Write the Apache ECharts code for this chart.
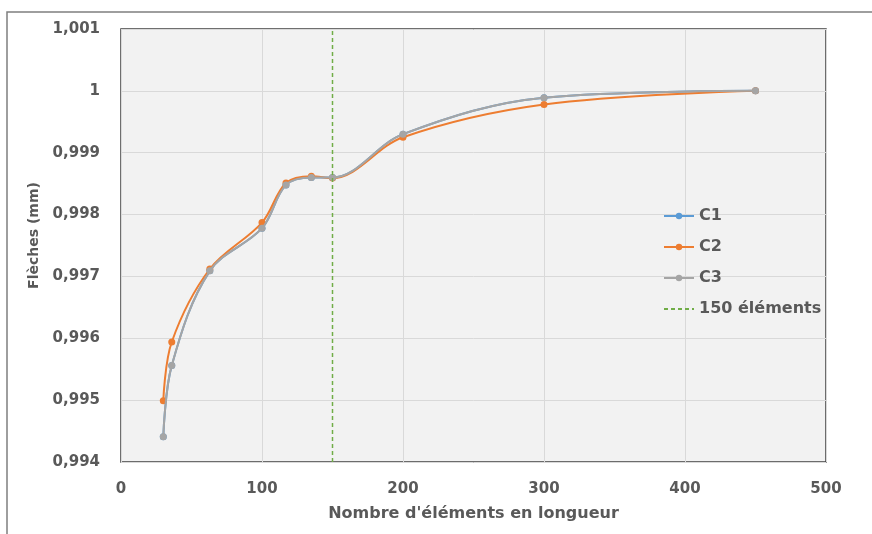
<!DOCTYPE html>
<html><head><meta charset="utf-8">
<script src="https://cdn.jsdelivr.net/npm/echarts@6/dist/echarts.min.js"></script>
<style>html,body{margin:0;padding:0;background:#fff}#c{width:872px;height:534px}</style>
</head><body><div id="c"></div>
<script>
const xVals = [30, 36, 63, 100, 117, 135, 150, 200, 300, 450];
const c1 = [0.99441, 0.99556, 0.99709, 0.99778, 0.99848, 0.99860, 0.99860, 0.99930, 0.99989, 1.00000];
const c2 = [0.99499, 0.99594, 0.99712, 0.99787, 0.99851, 0.99862, 0.99859, 0.99925, 0.99978, 1.00000];
const c3 = [0.99441, 0.99556, 0.99709, 0.99778, 0.99848, 0.99860, 0.99860, 0.99930, 0.99989, 1.00000];
const refX = 150;
const refY = [0.994, 1.001];
const seriesNames = ['C1', 'C2', 'C3', '150 éléments'];
const colors = ['#5b9bd5', '#ed7d31', '#a5a5a5', '#70ad47'];

const FONT = 'DejaVu Sans';
const txt = '#595959';
const chart = echarts.init(document.getElementById('c'));
function pair(ys){ return xVals.map((x,i)=>[x, ys[i]]); }
function fmtY(v){ return parseFloat(v.toFixed(3)).toString().replace('.', ','); }
const mk = (name, ys, color, z) => ({
  name, type:'line', data: pair(ys), smooth: 0.35, symbol:'circle', symbolSize:7,
  z, lineStyle:{color, width:2}, itemStyle:{color}
});
chart.setOption({
  animation:false,
  graphic:[{type:'rect', shape:{x:7, y:12, width:900, height:600}, style:{fill:'none', stroke:'#7f7f7f', lineWidth:1.5}, z:-10}],
  grid:{left:121, right:46, top:29, bottom:72, show:true, backgroundColor:'#f2f2f2', borderColor:'#404040', borderWidth:1.5},
  xAxis:{type:'value', min:0, max:500, interval:100,
    name:"Nombre d'éléments en longueur", nameLocation:'middle', nameGap:44,
    nameTextStyle:{fontFamily:FONT, fontWeight:'bold', fontSize:16, color:txt},
    axisLine:{show:false}, axisTick:{show:false},
    axisLabel:{margin:20, fontFamily:FONT, fontWeight:'bold', fontSize:15, color:txt},
    splitLine:{lineStyle:{color:'#d9d9d9', width:1}}},
  yAxis:{type:'value', min:0.994, max:1.001, interval:0.001,
    name:'Flèches (mm)', nameLocation:'middle', nameGap:74,
    nameTextStyle:{fontFamily:FONT, fontWeight:'bold', fontSize:14, color:txt, padding:[0,0,0,20]},
    axisLine:{show:false}, axisTick:{show:false},
    axisLabel:{margin:21, formatter:fmtY, fontFamily:FONT, fontWeight:'bold', fontSize:15, color:txt},
    splitLine:{lineStyle:{color:'#d9d9d9', width:1}}},
  legend:{orient:'vertical', left:658, top:203, itemGap:15, itemWidth:30, itemHeight:8,
    data: [seriesNames[0], seriesNames[1], seriesNames[2], {name:seriesNames[3], itemStyle:{opacity:0}}],
    textStyle:{fontFamily:FONT, fontWeight:'bold', fontSize:16, color:txt}},
  series:[
    mk(seriesNames[0], c1, colors[0], 2),
    mk(seriesNames[1], c2, colors[1], 3),
    mk(seriesNames[2], c3, colors[2], 4),
    {name:seriesNames[3], type:'line', data:[[refX, refY[0]],[refX, refY[1]]], symbol:'none', z:5,
     lineStyle:{color:colors[3], width:1.5, type:[4,3]}, itemStyle:{color:colors[3]}}
  ]
});
</script></body></html>
